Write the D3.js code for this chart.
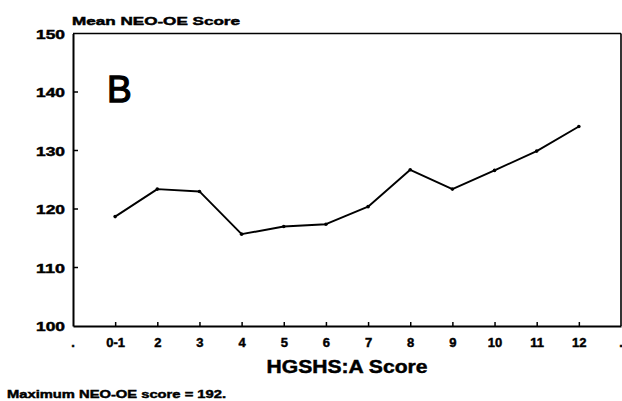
<!DOCTYPE html>
<html>
<head>
<meta charset="utf-8">
<script src="https://cdn.jsdelivr.net/npm/d3@7"></script>
<style>
  html, body { margin: 0; padding: 0; background: #fff; }
  svg { display: block; }
  text { font-family: "Liberation Sans", Arial, sans-serif; fill: #000; stroke: #000; stroke-width: 0.45px; }
</style>
</head>
<body>
<svg id="chart" width="622" height="401"></svg>
<script>
// ---- data ----
const categories = [".", "0-1", "2", "3", "4", "5", "6", "7", "8", "9", "10", "11", "12", "."];
const dataCategories = ["0-1", "2", "3", "4", "5", "6", "7", "8", "9", "10", "11", "12"];
const meanScores = [118.7, 123.4, 123.0, 115.7, 117.0, 117.4, 120.4, 126.7, 123.4, 126.6, 129.9, 134.1];
const yTicks = [100, 110, 120, 130, 140, 150];
const yTitle = "Mean NEO-OE Score";
const xTitle = "HGSHS:A Score";
const panelLabel = "B";
const footnote = "Maximum NEO-OE score = 192.";

// ---- layout ----
const svg = d3.select("#chart");
const mLeft = 73, mRight = 621, mTop = 33.5, mBottom = 326;

const x = d3.scalePoint().domain(d3.range(categories.length)).range([mLeft, mRight]).padding(0);
const y = d3.scaleLinear().domain([100, 150]).range([mBottom, mTop]);

// frame (top & right)
svg.append("line").attr("x1", mLeft).attr("x2", mRight).attr("y1", mTop).attr("y2", mTop)
  .attr("stroke", "#000").attr("stroke-width", 1.6);
svg.append("line").attr("x1", mRight).attr("x2", mRight).attr("y1", mTop).attr("y2", mBottom)
  .attr("stroke", "#000").attr("stroke-width", 1.6);

// x axis
const xAxis = d3.axisBottom(x)
  .tickValues(d3.range(1, categories.length - 1))
  .tickSizeInner(-4).tickSizeOuter(0)
  .tickFormat(i => categories[i]);
const gx = svg.append("g").attr("transform", `translate(0,${mBottom})`).call(xAxis);
gx.select(".domain").attr("stroke-width", 2);
gx.selectAll(".tick line").attr("stroke-width", 1.5);
gx.selectAll(".tick text")
  .attr("y", 21).attr("dy", null)
  .style("font-size", "13px").style("font-weight", "bold").style("font-family", "Liberation Sans, Arial, sans-serif");
// end-of-axis "." labels
svg.selectAll("text.endlbl").data([0, categories.length - 1]).enter().append("text")
  .attr("class", "endlbl")
  .attr("x", i => x(i)).attr("y", mBottom + 21)
  .attr("text-anchor", "middle")
  .style("font-size", "13px").style("font-weight", "bold")
  .text(i => categories[i]);

// y axis
const yAxis = d3.axisLeft(y)
  .tickValues(yTicks)
  .tickSizeInner(0).tickSizeOuter(0)
  .tickFormat(d3.format("d"));
const gy = svg.append("g").attr("transform", `translate(${mLeft},0)`).call(yAxis);
gy.select(".domain").attr("stroke-width", 2);
gy.selectAll(".tick text")
  .attr("x", -8).attr("dy", "0.36em")
  .attr("textLength", 29).attr("lengthAdjust", "spacingAndGlyphs")
  .style("font-size", "12.5px").style("font-weight", "bold").style("font-family", "Liberation Sans, Arial, sans-serif");
// inward y tick marks (interior values only)
svg.selectAll("line.ytick").data(yTicks.filter(v => v > 100 && v < 150)).enter().append("line")
  .attr("class", "ytick")
  .attr("x1", mLeft).attr("x2", mLeft + 5)
  .attr("y1", d => y(d)).attr("y2", d => y(d))
  .attr("stroke", "#000").attr("stroke-width", 1.5);

// data line
const pts = dataCategories.map((c, i) => [categories.indexOf(c), meanScores[i]]);
svg.append("path")
  .datum(pts)
  .attr("fill", "none").attr("stroke", "#000").attr("stroke-width", 1.9)
  .attr("stroke-linejoin", "round")
  .attr("d", d3.line().x(d => x(d[0])).y(d => y(d[1])));
svg.selectAll("circle.pt").data(pts).enter().append("circle")
  .attr("class", "pt")
  .attr("cx", d => x(d[0])).attr("cy", d => y(d[1])).attr("r", 1.8).attr("fill", "#000");

// titles
svg.append("text").attr("x", 72).attr("y", 25)
  .attr("textLength", 168).attr("lengthAdjust", "spacingAndGlyphs")
  .style("font-size", "11px").style("font-weight", "bold").text(yTitle);
svg.append("text").attr("x", (mLeft + mRight) / 2).attr("y", 373).attr("text-anchor", "middle")
  .attr("textLength", 161).attr("lengthAdjust", "spacingAndGlyphs")
  .style("font-size", "18px").style("font-weight", "bold").text(xTitle);
svg.append("text").attr("x", 107).attr("y", 101.5)
  .style("font-size", "37px").style("stroke-width", "1.3px").text(panelLabel);
svg.append("text").attr("x", 7).attr("y", 398)
  .attr("textLength", 219).attr("lengthAdjust", "spacingAndGlyphs")
  .style("font-size", "11px").style("font-weight", "bold").text(footnote);
</script>
</body>
</html>
